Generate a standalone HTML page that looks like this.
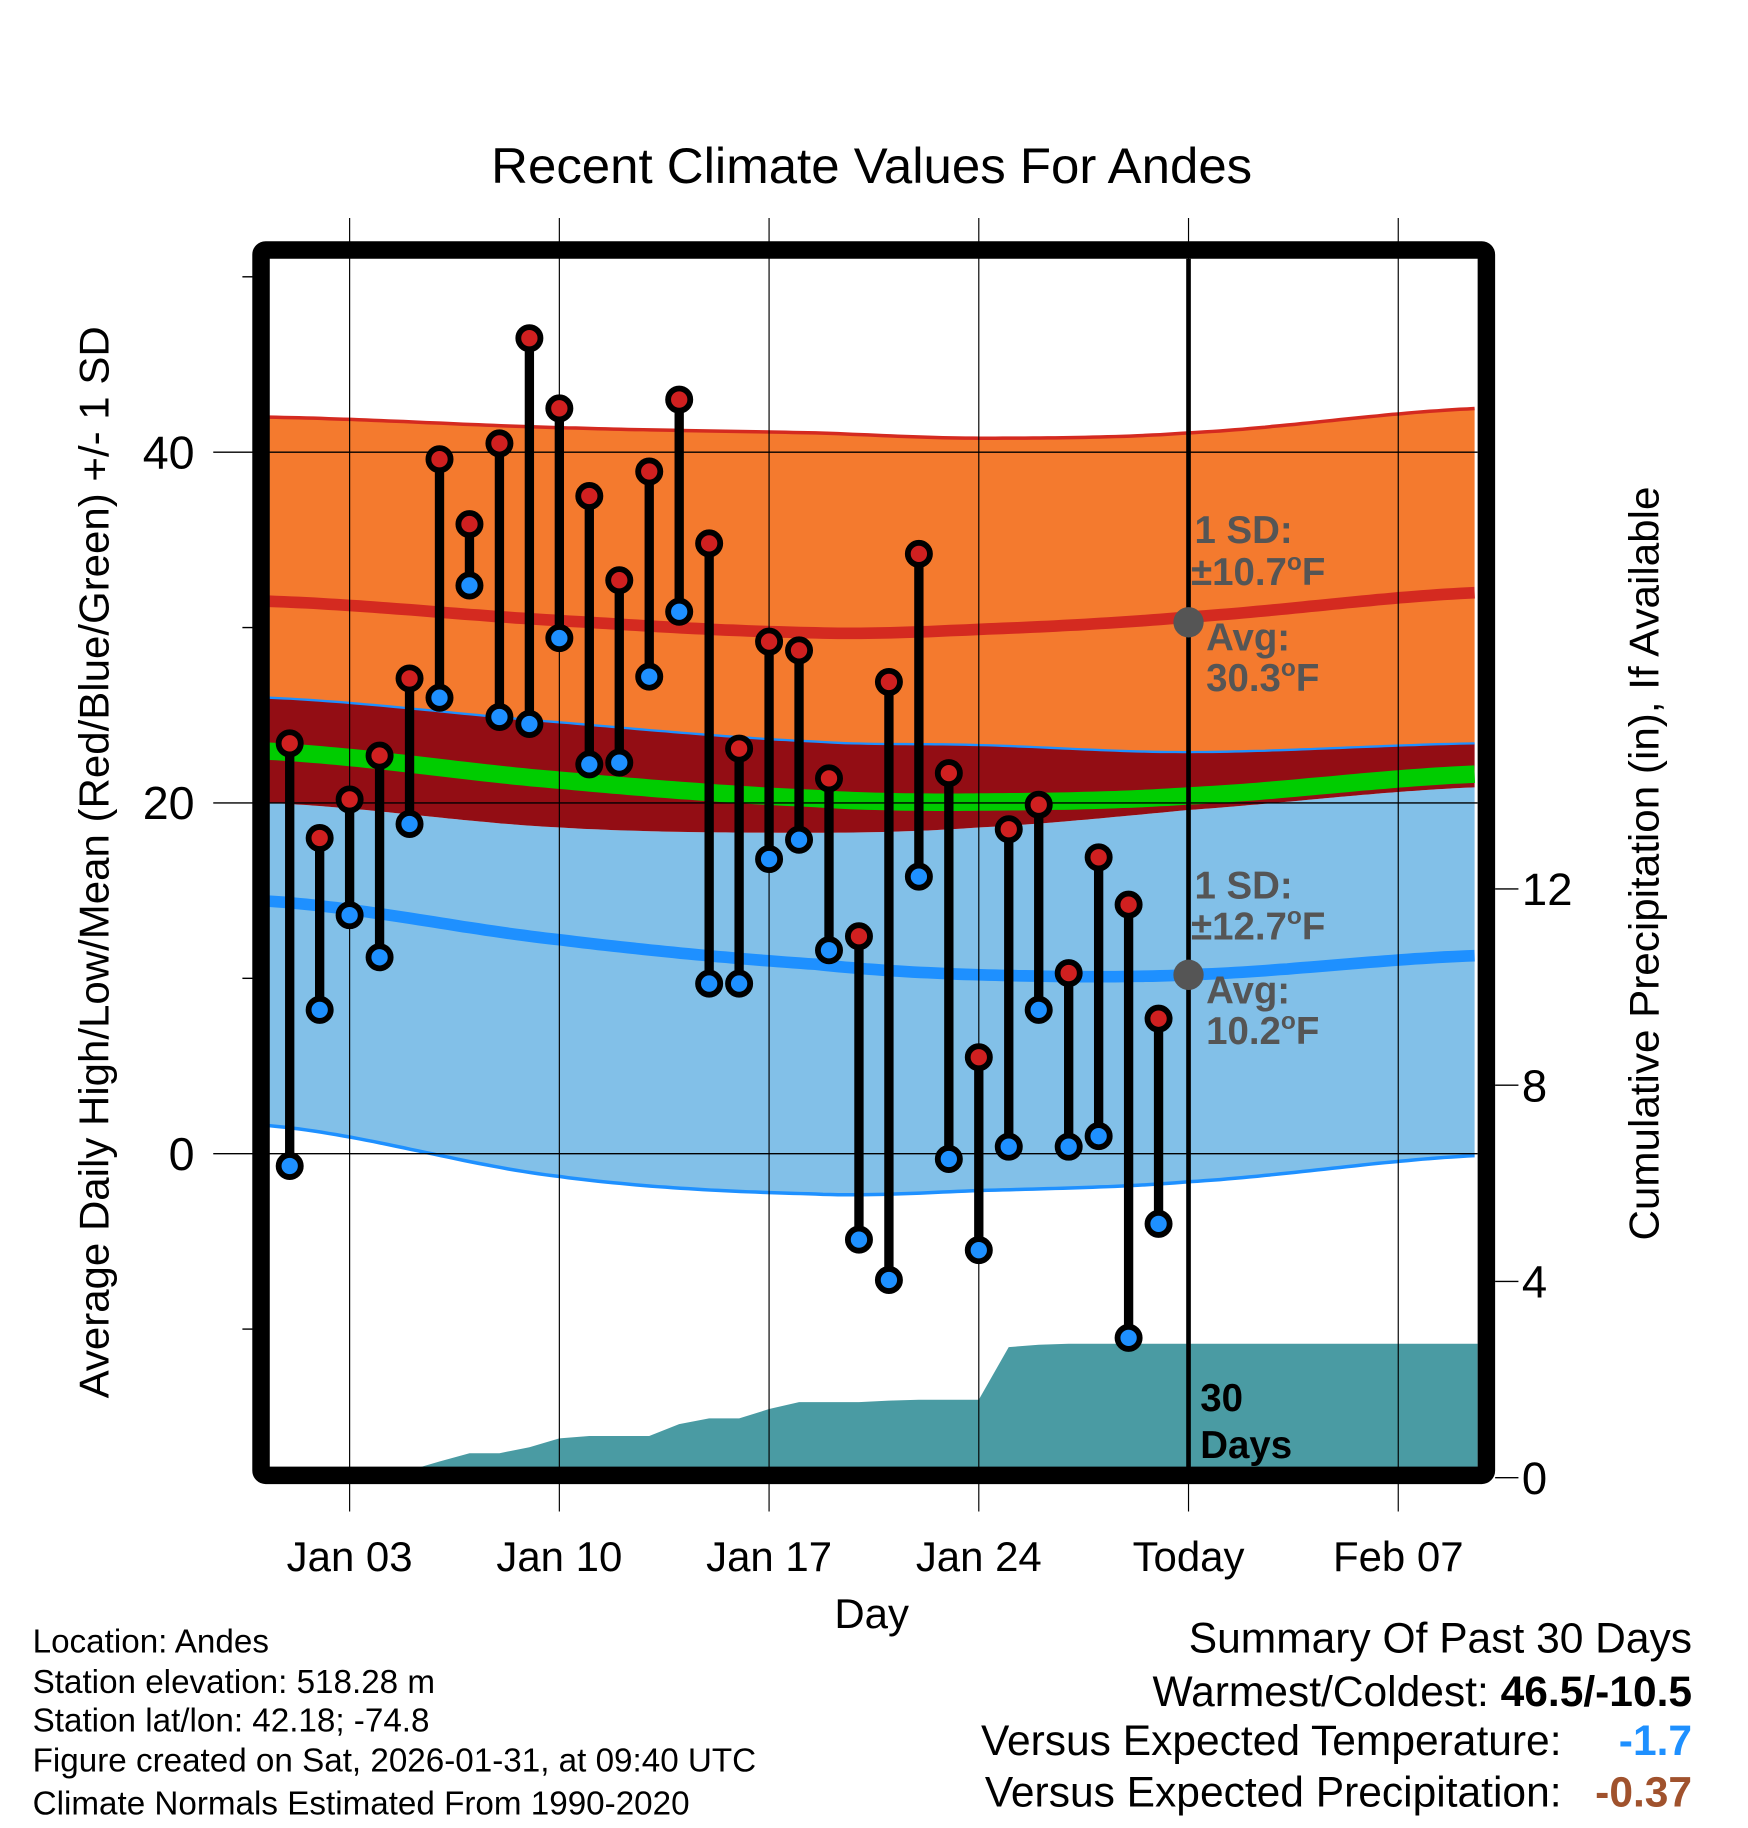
<!DOCTYPE html>
<html><head><meta charset="utf-8"><style>
html,body{margin:0;padding:0;background:#fff}
svg{display:block;font-family:"Liberation Sans",sans-serif}
</style></head><body>
<svg id="chart" width="1748" height="1828" viewBox="0 0 1500 1568.6" xmlns="http://www.w3.org/2000/svg">
<rect width="1500" height="1568.6" fill="#fff"/>
<text x="748" y="157" font-size="43" text-anchor="middle" textLength="653" lengthAdjust="spacingAndGlyphs">Recent Climate Values For Andes</text>
<defs><clipPath id="plotclip"><rect x="231" y="222" width="1037" height="1038"/></clipPath></defs>
<g id="bands" clip-path="url(#plotclip)"></g>
<g id="grid"></g>
<g id="marks" clip-path="url(#plotclip)"></g>
<g id="axes"></g>
<g id="annot" font-weight="bold" font-size="33" fill="#555">
<text x="1025" y="466">1 SD:</text>
<text x="1022" y="502">±10.7<tspan font-size="21" dy="-13">o</tspan><tspan dy="13">F</tspan></text>
<text x="1035" y="558">Avg:</text>
<text x="1035" y="593">30.3<tspan font-size="21" dy="-13">o</tspan><tspan dy="13">F</tspan></text>
<text x="1025" y="771">1 SD:</text>
<text x="1022" y="806">±12.7<tspan font-size="21" dy="-13">o</tspan><tspan dy="13">F</tspan></text>
<text x="1035" y="861">Avg:</text>
<text x="1035" y="896">10.2<tspan font-size="21" dy="-13">o</tspan><tspan dy="13">F</tspan></text>
<text x="1030" y="1211" fill="#000">30</text>
<text x="1030" y="1251" fill="#000">Days</text>
</g>
<text x="748" y="1397" font-size="36" text-anchor="middle">Day</text>
<text transform="translate(93,740) rotate(-90)" font-size="36" text-anchor="middle" textLength="920" lengthAdjust="spacingAndGlyphs">Average Daily High/Low/Mean (Red/Blue/Green) +/- 1 SD</text>
<text transform="translate(1423,741) rotate(-90)" font-size="36" text-anchor="middle" textLength="647" lengthAdjust="spacingAndGlyphs">Cumulative Precipitation (in), If Available</text>
<g font-size="28.5">
<text x="28" y="1418">Location: Andes</text>
<text x="28" y="1453">Station elevation: 518.28 m</text>
<text x="28" y="1486">Station lat/lon: 42.18; -74.8</text>
<text x="28" y="1520">Figure created on Sat, 2026-01-31, at 09:40 UTC</text>
<text x="28" y="1557">Climate Normals Estimated From 1990-2020</text>
</g>
<g font-size="36.5" text-anchor="end">
<text x="1452" y="1418">Summary Of Past 30 Days</text>
<text x="1452" y="1464">Warmest/Coldest: <tspan font-weight="bold">46.5/-10.5</tspan></text>
<text x="1340" y="1506">Versus Expected Temperature:</text>
<text x="1452" y="1506" font-weight="bold" fill="#1E90FF">-1.7</text>
<text x="1340" y="1550">Versus Expected Precipitation:</text>
<text x="1452" y="1550" font-weight="bold" fill="#A0522D">-0.37</text>
</g>
</svg>
<script>
const highs=[23.4,18.0,20.2,22.7,27.1,39.6,35.9,40.5,46.5,42.5,37.5,32.7,38.9,43.0,34.8,23.1,29.2,28.7,21.4,12.4,26.9,34.2,21.7,5.5,18.5,19.9,10.3,16.9,14.2,7.7];
const lows=[-0.7,8.2,13.6,11.2,18.8,26.0,32.4,24.9,24.5,29.4,22.2,22.3,27.2,30.9,9.7,9.7,16.8,17.9,11.6,-4.9,-7.2,15.8,-0.3,-5.5,0.4,8.2,0.4,1.0,-10.5,-4.0];
const precip=[0,0,0,0,0.15,0.33,0.5,0.5,0.62,0.8,0.85,0.85,0.85,1.09,1.21,1.21,1.4,1.54,1.54,1.54,1.57,1.59,1.59,1.59,2.66,2.71,2.73,2.73,2.73,2.73];
const normDays=[-0.7,9,17.56,23,30,39.7];
const avgHigh=[31.5,30.4,29.7,29.9,30.6,32.0];
const highPlus=[42.0,41.4,41.1,40.8,41.1,42.5];
const highMinus=[26.0,24.6,23.5,23.3,22.9,23.4];
const avgLow=[14.4,12.2,10.8,10.2,10.2,11.3];
const lowPlus=[20.0,18.6,18.3,18.6,19.6,20.9];
const lowMinus=[1.6,-1.3,-2.3,-2.1,-1.6,-0.1];
const xTickDays=[2,9,16,23,30,37];
const xTickLabels=["Jan 03","Jan 10","Jan 17","Jan 24","Today","Feb 07"];
const yTicks=[0,20,40];
const yMinor=[-10,10,30,50];
const y2Ticks=[0,4,8,12];

const NS="http://www.w3.org/2000/svg";
const X=d=>248.6+25.71*d;
const Y=v=>990-15.05*v;
const Y2=p=>1268-42.1*p;
function mk(parent,tag,attrs){const e=document.createElementNS(NS,tag);for(const k in attrs)e.setAttribute(k,attrs[k]);document.getElementById(parent).appendChild(e);return e;}
function interp(arr,d){for(let i=0;i<normDays.length-1;i++){if(d<=normDays[i+1]||i==normDays.length-2){const t=(d-normDays[i])/(normDays[i+1]-normDays[i]);
const p0=arr[Math.max(i-1,0)],p1=arr[i],p2=arr[i+1],p3=arr[Math.min(i+2,arr.length-1)];
return 0.5*((2*p1)+(-p0+p2)*t+(2*p0-5*p1+4*p2-p3)*t*t+(-p0+3*p1-3*p2+p3)*t*t*t);}}}
const sd=[];for(let d=normDays[0];d<=normDays[normDays.length-1]+0.001;d+=0.25)sd.push(d);
function line(arr){return sd.map(d=>X(d).toFixed(1)+","+Y(interp(arr,d)).toFixed(1));}
function area(a,b){return line(a).concat(line(b).reverse()).join(" ");}
let e;
e=mk('bands','polygon',{points:area(highPlus,highMinus),fill:'#F47A2E'});

e=mk('bands','polyline',{points:line(highPlus).join(" "),fill:'none',stroke:'#D42A20','stroke-width':3});

e=mk('bands','polygon',{points:area(lowPlus,lowMinus),fill:'#82C0E8'});

e=mk('bands','polygon',{points:area(highMinus,lowPlus),fill:'#930D14'});

e=mk('bands','polyline',{points:line(highMinus).join(" "),fill:'none',stroke:'#1E90FF','stroke-width':2});

e=mk('bands','polyline',{points:line(lowMinus).join(" "),fill:'none',stroke:'#1E90FF','stroke-width':3});

const avgMean=avgHigh.map((v,i)=>(v+avgLow[i])/2);
e=mk('bands','polyline',{points:line(avgMean).join(" "),fill:'none',stroke:'#00CC00','stroke-width':15});

e=mk('bands','polyline',{points:line(avgHigh).join(" "),fill:'none',stroke:'#D42A20','stroke-width':10});

e=mk('bands','polyline',{points:line(avgLow).join(" "),fill:'none',stroke:'#1E90FF','stroke-width':10});

let pp=[X(-0.7)+","+Y2(0)];
precip.forEach((p,i)=>pp.push(X(i).toFixed(1)+","+Y2(p).toFixed(1)));
pp.push(X(39.7)+","+Y2(precip[precip.length-1]).toFixed(1));pp.push(X(39.7)+","+Y2(0));
e=mk('bands','polygon',{points:pp.join(" "),fill:'#4A9BA3'});

xTickDays.forEach((d,i)=>{
 e=mk('grid','line',{x1:X(d),x2:X(d),y1:187,y2:1297,stroke:'#000','stroke-width':1});
 
 e=mk('grid','text',{x:X(d),y:1348,'font-size':36,'text-anchor':'middle'});e.textContent=xTickLabels[i];
 
});
yTicks.forEach(v=>{
 e=mk('grid','line',{x1:183,x2:1268,y1:Y(v),y2:Y(v),stroke:'#000','stroke-width':1.2});
 
 e=mk('grid','text',{x:167,y:Y(v)+14,'font-size':40,'text-anchor':'end'});e.textContent=v;
 
});
yMinor.forEach(v=>{
 e=mk('grid','line',{x1:208,x2:220,y1:Y(v),y2:Y(v),stroke:'#000','stroke-width':1.2});
 
});
y2Ticks.forEach(p=>{
 e=mk('grid','line',{x1:1283,x2:1303,y1:Y2(p),y2:Y2(p),stroke:'#000','stroke-width':1.2});
 
 e=mk('grid','text',{x:1306,y:Y2(p)+14,'font-size':39});e.textContent=p;
 
});
e=mk('grid','line',{x1:X(30),x2:X(30),y1:222,y2:1262,stroke:'#000','stroke-width':4});

highs.forEach((h,i)=>{
 e=mk('marks','line',{x1:X(i),x2:X(i),y1:Y(h),y2:Y(lows[i]),stroke:'#000','stroke-width':8});
 
});
highs.forEach((h,i)=>{
 e=mk('marks','circle',{cx:X(i),cy:Y(h),r:9.5,fill:'#D02020',stroke:'#000','stroke-width':5});
 
 e=mk('marks','circle',{cx:X(i),cy:Y(lows[i]),r:9.5,fill:'#1E90FF',stroke:'#000','stroke-width':5});
 
});
e=mk('marks','circle',{cx:X(30),cy:Y(30.3),r:13,fill:'#555'});

e=mk('marks','circle',{cx:X(30),cy:Y(10.2),r:13,fill:'#555'});

e=mk('axes','rect',{x:224,y:214.5,width:1051.5,height:1051.5,fill:'none',stroke:'#000','stroke-width':15,rx:4});

</script>
</body></html>
